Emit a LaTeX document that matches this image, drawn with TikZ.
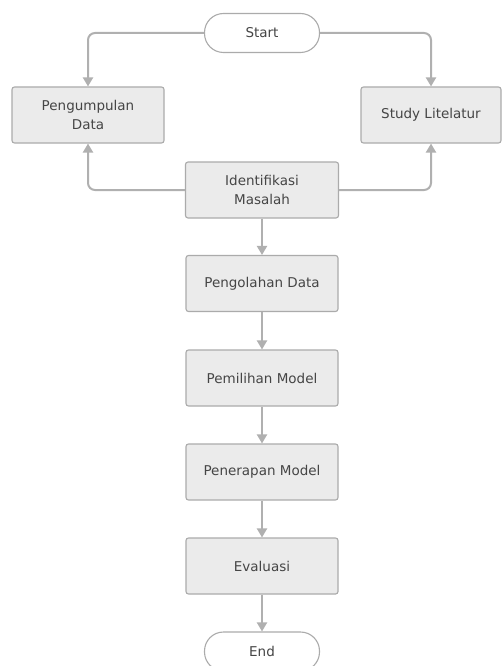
\documentclass[tikz,border=0pt]{standalone}
\usepackage{fontspec}
\setmainfont{DejaVu Sans}
\usetikzlibrary{arrows.meta}
\definecolor{boxfill}{HTML}{EBEBEB}
\definecolor{boxline}{HTML}{ABABAB}
\definecolor{arr}{HTML}{B0B0B0}
\definecolor{txt}{HTML}{454545}
\begin{document}
\begin{tikzpicture}[x=1pt,y=-1pt,
  proc/.style={draw=boxline,fill=boxfill,line width=1.1pt,rounded corners=2.5pt,
    minimum width=152pt,minimum height=56pt,align=center,text=txt,
    font=\fontsize{13.5}{18.5}\selectfont,inner sep=0pt},
  term/.style={draw=boxline,fill=white,line width=1.1pt,rounded corners=19pt,
    minimum width=115pt,minimum height=39pt,text=txt,font=\fontsize{13.5}{17}\selectfont,inner sep=0pt},
  conn/.style={draw=arr,line width=2pt,rounded corners=7pt,-{Triangle[width=10pt,length=9pt]}}]
\useasboundingbox[fill=white] (0,0) rectangle (501,666);
\node[term] (start) at (262,33) {Start};
\node[proc] (pd) at (88,115) {Pengumpulan\\Data};
\node[proc,minimum width=140pt] (sl) at (431,115) {Study Litelatur};
\node[proc,minimum width=153pt] (im) at (262,190) {Identifikasi\\Masalah};
\node[proc] (po) at (262,283.5) {Pengolahan Data};
\node[proc] (pm) at (262,378) {Pemilihan Model};
\node[proc] (pn) at (262,472) {Penerapan Model};
\node[proc] (ev) at (262,566) {Evaluasi};
\node[term] (end) at (262,651.5) {End};
\draw[conn] (start.west) -| (pd.north);
\draw[conn] (start.east) -| (sl.north);
\draw[conn] (im.west) -| (pd.south);
\draw[conn] (im.east) -| (sl.south);
\draw[conn] (im.south) -- (po.north);
\draw[conn] (po.south) -- (pm.north);
\draw[conn] (pm.south) -- (pn.north);
\draw[conn] (pn.south) -- (ev.north);
\draw[conn] (ev.south) -- (end.north);
\end{tikzpicture}
\end{document}
